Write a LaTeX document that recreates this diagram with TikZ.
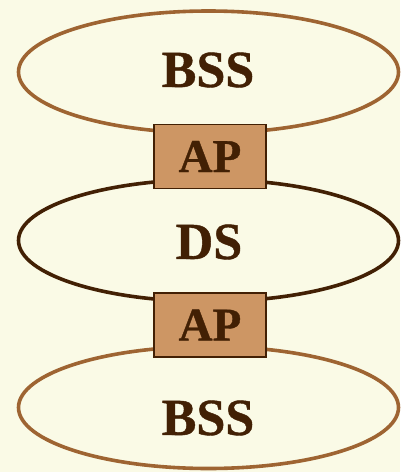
\documentclass[tikz,border=0pt]{standalone}
\usepackage{fontspec}
\setmainfont{Liberation Serif}[BoldFeatures={FakeBold=0.8}]
\usetikzlibrary{shapes.geometric}
\definecolor{bgcol}{RGB}{250,250,230}
\definecolor{lightbrown}{RGB}{158,100,50}
\definecolor{darkbrown}{RGB}{66,32,4}
\definecolor{apfill}{RGB}{205,150,100}
\begin{document}
\begin{tikzpicture}[x=1pt,y=-1pt,
  net/.style={ellipse, draw, line width=3.6pt, minimum width=380pt, minimum height=122pt, inner sep=0pt},
  bss/.style={net, draw=lightbrown},
  ds/.style={net, draw=darkbrown},
  label/.style={text=darkbrown, font=\bfseries\fontsize{52}{52}\selectfont},
  apbox/.style={draw=darkbrown, fill=apfill, line width=1.6pt, minimum width=112pt, minimum height=64pt, inner sep=0pt, text=darkbrown, font=\bfseries\fontsize{47}{47}\selectfont}]
  \fill[bgcol] (0,0) rectangle (400,472);
  \useasboundingbox (0,0) rectangle (400,472);
  % networks
  \node[bss] (bss1) at (208.5,72) {};
  \node[ds] (ds) at (208.5,240.5) {};
  \node[bss] (bss2) at (208.5,407.5) {};
  \node[label] (bss1t) at (208,70) {BSS};
  \node[label] (dst) at (209,242) {DS};
  \node[label] (bss2t) at (208,418) {BSS};
  % access points bridging the networks
  \node[apbox] (ap1) at (210,156.5) {AP};
  \node[apbox] (ap2) at (210,325) {AP};
\end{tikzpicture}
\end{document}
